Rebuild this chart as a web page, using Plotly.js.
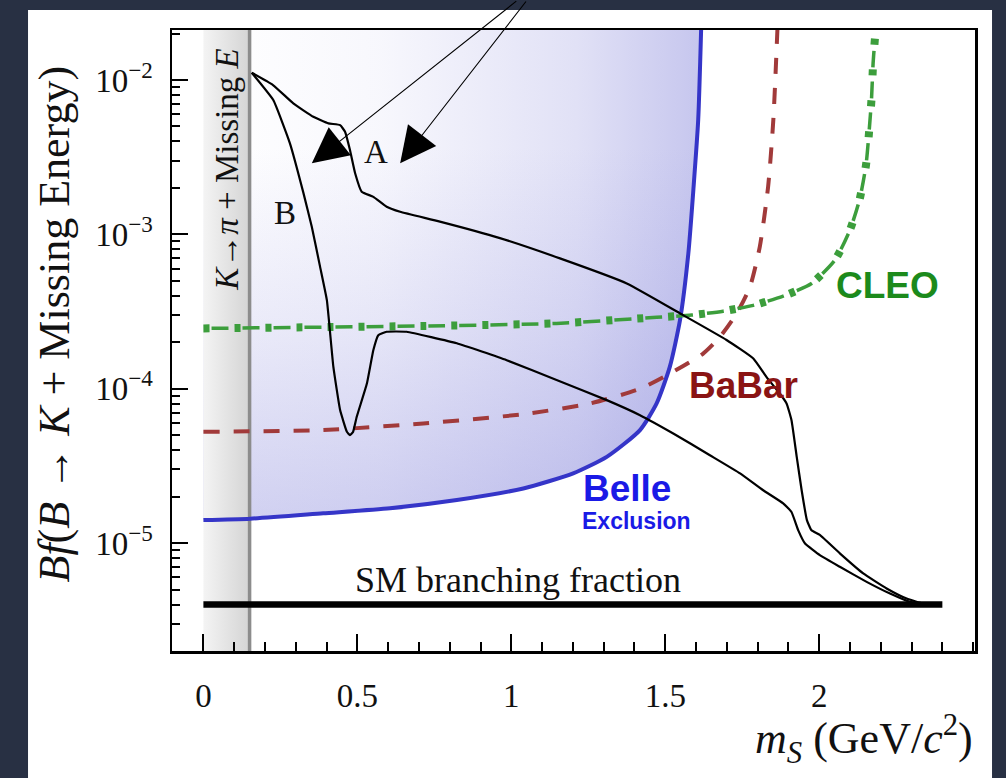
<!DOCTYPE html>
<html>
<head>
<meta charset="utf-8">
<script src="https://cdn.plot.ly/plotly-3.0.1.min.js"></script>
<style>html,body{margin:0;padding:0;background:#283043;}</style>
</head>
<body>
<div id="chart" style="width:1006px;height:778px;"></div>
<script>
// ---- data ----
const curveA_x = [0.157,0.226,0.292,0.357,0.406,0.444,0.460,0.476,0.493,0.514,0.552,0.595,0.639,0.768,0.963,1.158,1.375,1.558,1.699,1.786,1.829,1.872,1.894,1.910,1.927,1.943,1.960,1.975,2.002,2.067,2.143,2.219,2.284,2.338,2.392];
const curveA_y = [1.115e-2,9.28e-3,7.06e-3,5.78e-3,5.24e-3,5.1e-3,4.62e-3,3.52e-3,2.48e-3,1.89e-3,1.75e-3,1.51e-3,1.40e-3,1.21e-3,9.46e-4,6.99e-4,4.81e-4,3.0e-4,2.07e-4,1.57e-4,1.19e-4,9.31e-5,8.03e-5,6.25e-5,3.62e-5,2.2e-5,1.41e-5,1.21e-5,1.13e-5,8.58e-6,6.36e-6,5.08e-6,4.37e-6,4.06e-6,4.0e-6];

const curveB_x = [0.157,0.227,0.281,0.325,0.352,0.379,0.401,0.422,0.444,0.466,0.476,0.486,0.498,0.531,0.552,0.568,0.595,0.660,0.823,0.985,1.147,1.310,1.418,1.526,1.645,1.743,1.818,1.883,1.910,1.932,1.954,2.002,2.067,2.154,2.230,2.295,2.338,2.392];
const curveB_y = [1.115e-2,7.42e-3,3.89e-3,1.85e-3,1.12e-3,6.16e-4,3.75e-4,1.39e-4,7.27e-5,5.26e-5,5.0e-5,5.24e-5,6.58e-5,1.08e-4,1.78e-4,2.22e-4,2.34e-4,2.34e-4,1.97e-4,1.53e-4,1.14e-4,8.44e-5,6.74e-5,5.13e-5,3.71e-5,2.83e-5,2.20e-5,1.81e-5,1.59e-5,1.21e-5,9.94e-6,8.35e-6,7.02e-6,5.61e-6,4.71e-6,4.16e-6,4.05e-6,4.0e-6];

const belle_x = [0,0.152,0.389,0.606,0.823,1.039,1.201,1.310,1.418,1.472,1.515,1.548,1.575,1.592,1.607,1.617];
const belle_y = [1.41e-5,1.44e-5,1.56e-5,1.68e-5,1.90e-5,2.26e-5,2.83e-5,3.62e-5,5.40e-5,8.03e-5,1.39e-4,2.79e-4,7.53e-4,2.03e-3,5.51e-3,2.3e-2];

const babar_x = [0,0.390,0.714,1.039,1.256,1.418,1.526,1.623,1.678,1.732,1.775,1.807,1.834,1.851,1.865];
const babar_y = [5.26e-5,5.40e-5,5.96e-5,6.84e-5,8.03e-5,1.00e-4,1.29e-4,1.69e-4,2.17e-4,3.07e-4,4.57e-4,8.31e-4,2.03e-3,5.51e-3,2.3e-2];

const cleo_x = [0,0.713,1.147,1.472,1.586,1.688,1.786,1.883,1.975,2.051,2.100,2.132,2.152,2.162,2.170,2.175,2.181];
const cleo_y = [2.46e-4,2.55e-4,2.65e-4,2.90e-4,3.0e-4,3.18e-4,3.47e-4,3.98e-4,4.81e-4,6.81e-4,1.07e-3,1.71e-3,2.81e-3,4.62e-3,7.61e-3,1.28e-2,1.86e-2];

const sm_x = [0, 2.4];
const sm_y = [4e-6, 4e-6];

const band_x = [0, 0.15];   // K -> pi + missing E region

const yTickVals = [1e-5, 1e-4, 1e-3, 1e-2];
const yTickText = ['10<sup>\u22125</sup>','10<sup>\u22124</sup>','10<sup>\u22123</sup>','10<sup>\u22122</sup>'];
const xTickVals = [0, 0.5, 1, 1.5, 2];
const xTickText = ['0','0.5','1','1.5','2'];

// ---- layout constants ----
const X_RANGE = [-0.102, 2.506];
const Y_RANGE = [-5.699, -1.676];
const yLo = Math.pow(10, Y_RANGE[0] - 0.05), yHi = Math.pow(10, Y_RANGE[1] + 0.05);

const minorY = [];
for (let e = -6; e <= -2; e++) for (let m = 2; m <= 9; m++) minorY.push(m * Math.pow(10, e));

const serif = 'Liberation Serif, Times New Roman, serif';
const sans = 'Liberation Sans, Arial, sans-serif';

const traces = [
  // Belle exclusion fill, horizontal gradient
  { x: belle_x.concat([belle_x[belle_x.length-1], belle_x[0]]),
    y: belle_y.concat([yHi, yHi]),
    mode: 'lines', line: {width: 0}, fill: 'toself', hoverinfo: 'skip',
    fillgradient: {type: 'horizontal', colorscale: [[0,'rgba(105,105,210,0)'],[0.35,'rgba(105,105,210,0.05)'],[0.75,'rgba(105,105,210,0.2)'],[1,'rgba(105,105,210,0.38)']]} },
  // Belle exclusion fill, vertical gradient
  { x: belle_x.concat([belle_x[belle_x.length-1], belle_x[0]]),
    y: belle_y.concat([yHi, yHi]),
    mode: 'lines', line: {width: 0}, fill: 'toself', hoverinfo: 'skip',
    fillgradient: {type: 'vertical', colorscale: [[0,'rgba(105,105,210,0.3)'],[0.4,'rgba(105,105,210,0.12)'],[0.75,'rgba(105,105,210,0)'],[1,'rgba(105,105,210,0)']]} },
  // grey band
  { x: [band_x[0], band_x[1], band_x[1], band_x[0]], y: [yLo, yLo, yHi, yHi],
    mode: 'lines', line: {width: 0}, fill: 'toself', hoverinfo: 'skip',
    fillgradient: {type: 'horizontal', colorscale: [[0,'#f4f4f4'],[1,'#d4d4d4']]} },
  { x: [band_x[1], band_x[1]], y: [yLo, yHi], mode: 'lines', line: {color: '#8c8c8c', width: 3.5}, hoverinfo: 'skip' },
  // SM
  { x: sm_x, y: sm_y, mode: 'lines', line: {color: '#000', width: 6.5} },
  // Belle
  { x: belle_x, y: belle_y, mode: 'lines', line: {color: '#3535c8', width: 4, shape: 'spline', smoothing: 0.6} },
  // BaBar
  { x: babar_x, y: babar_y, mode: 'lines', line: {color: '#a13a3a', width: 4, dash: '16px,14px', shape: 'spline', smoothing: 0.6} },
  // CLEO: dashes + dots
  { x: cleo_x, y: cleo_y, mode: 'lines', line: {color: '#3c9e3c', width: 3.5, dash: '0px,8px,17px,6px', shape: 'spline', smoothing: 0.6} },
  { x: cleo_x, y: cleo_y, mode: 'lines', line: {color: '#3c9e3c', width: 8, dash: '6px,25px', shape: 'spline', smoothing: 0.6} },
  // curves A and B
  { x: curveA_x, y: curveA_y, mode: 'lines', line: {color: '#000', width: 2.2, shape: 'spline', smoothing: 0.4} },
  { x: curveB_x, y: curveB_y, mode: 'lines', line: {color: '#000', width: 2.2, shape: 'spline', smoothing: 0.35} }
];

function txt(x, ly, text, font, extra) {
  return Object.assign({x: x, y: ly, xref: 'x', yref: 'y', text: text, showarrow: false, font: font}, extra || {});
}

const annotations = [
  txt(0.074, -2.58, '<i>K</i>\u2192<i>\u03c0</i> + Missing <i>E</i>', {family: serif, size: 33, color: '#111'}, {textangle: -90}),
  txt(0.561, -2.467, 'A', {family: serif, size: 33, color: '#111'}),
  txt(0.266, -2.862, 'B', {family: serif, size: 33, color: '#111'}),
  txt(1.023, -5.24, 'SM branching fraction', {family: serif, size: 36, color: '#111'}),
  txt(2.223, -3.329, '<b>CLEO</b>', {family: sans, size: 37, color: '#1c8a1c'}),
  txt(1.753, -3.977, '<b>BaBar</b>', {family: sans, size: 37, color: '#8a1414'}),
  txt(1.377, -4.644, '<b>Belle</b>', {family: sans, size: 37, color: '#1a1ae6'}),
  txt(1.406, -4.857, '<b>Exclusion</b>', {family: sans, size: 23, color: '#1a1ae6'}),
  // arrows
  {x: 0.352, y: -2.540, xref: 'x', yref: 'y', text: '', showarrow: true, arrowhead: 2, arrowsize: 6.5, arrowwidth: 1.1, arrowcolor: '#000', ax: 206, ay: -172, standoff: 0},
  {x: 0.639, y: -2.540, xref: 'x', yref: 'y', text: '', showarrow: true, arrowhead: 2, arrowsize: 6.5, arrowwidth: 1.1, arrowcolor: '#000', ax: 127, ay: -172, standoff: 0},
  // axis titles
  {x: -0.146, y: 0.527, xref: 'paper', yref: 'paper', textangle: -90, showarrow: false, xanchor: 'center', yanchor: 'middle',
   text: '<i>Bf</i>(<i>B</i> \u2192 <i>K</i> + Missing Energy)', font: {family: serif, size: 44, color: '#111'}},
  {x: 1.0, y: -0.141, xref: 'paper', yref: 'paper', showarrow: false, xanchor: 'right', yanchor: 'middle',
   text: '<i>m<sub>S</sub></i> (GeV/<i>c</i><sup>2</sup>)', font: {family: serif, size: 44, color: '#111'}}
];

const layout = {
  width: 1006, height: 778,
  margin: {l: 172, r: 31, t: 30, b: 127.3, pad: 0},
  paper_bgcolor: '#283043',
  plot_bgcolor: '#ffffff',
  showlegend: false,
  shapes: [
    {type: 'rect', xref: 'paper', yref: 'paper', x0: -0.1793, x1: 1.0212, y0: -0.3, y1: 1.0322,
     fillcolor: '#ffffff', line: {width: 0}, layer: 'below'}
  ],
  xaxis: {
    range: X_RANGE, showgrid: false, zeroline: false,
    showline: true, linecolor: '#000', linewidth: 2.5, mirror: true,
    ticks: 'inside', ticklen: 17, tickwidth: 2, tickcolor: '#000',
    tickmode: 'array', tickvals: xTickVals, ticktext: xTickText,
    ticklabelstandoff: 14,
    tickfont: {family: serif, size: 33, color: '#111'},
    minor: {dtick: 0.1, tick0: 0, ticks: 'inside', ticklen: 9, tickwidth: 2, tickcolor: '#000', showgrid: false}
  },
  yaxis: {
    type: 'log', range: Y_RANGE, showgrid: false, zeroline: false,
    showline: true, linecolor: '#000', linewidth: 2.5, mirror: true,
    ticks: 'inside', ticklen: 16, tickwidth: 2, tickcolor: '#000',
    tickmode: 'array', tickvals: yTickVals, ticktext: yTickText,
    ticklabelstandoff: 10,
    tickfont: {family: serif, size: 33, color: '#111'},
    minor: {tickmode: 'array', tickvals: minorY, ticks: 'inside', ticklen: 8, tickwidth: 2, tickcolor: '#000', showgrid: false}
  },
  annotations: annotations
};

Plotly.newPlot('chart', traces, layout, {displayModeBar: false, staticPlot: true});
</script>
</body>
</html>
